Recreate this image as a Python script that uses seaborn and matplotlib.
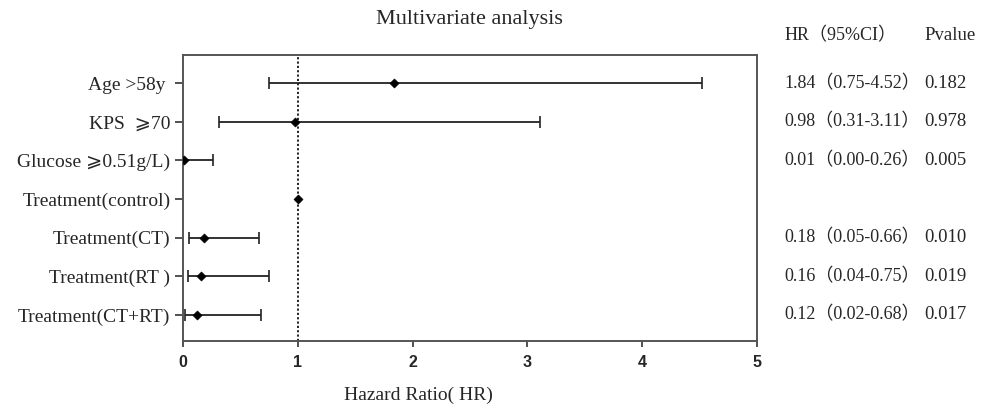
import numpy as np
import pandas as pd
import matplotlib.pyplot as plt
import seaborn as sns

labels = ['Age >58y ', 'KPS  ⩾70', 'Glucose ⩾0.51g/L)', 'Treatment(control)',
          'Treatment(CT)', 'Treatment(RT )', 'Treatment(CT+RT)']
hr = [1.84, 0.98, 0.01, 1.00, 0.18, 0.16, 0.12]
lower = [0.75, 0.31, 0.00, np.nan, 0.05, 0.04, 0.02]
upper = [4.52, 3.11, 0.26, np.nan, 0.66, 0.75, 0.68]
hr_text = ['1.84（0.75-4.52）', '0.98（0.31-3.11）', '0.01（0.00-0.26）', '',
           '0.18（0.05-0.66）', '0.16（0.04-0.75）', '0.12（0.02-0.68）']
p_text = ['0.182', '0.978', '0.005', '', '0.010', '0.019', '0.017']

df = pd.DataFrame({'label': labels, 'hr': hr, 'lo': lower, 'hi': upper})
df['pos'] = np.arange(len(df))

sns.set_theme(style='ticks')
serif = ['Liberation Serif', 'DejaVu Sans', 'Noto Sans CJK SC']
plt.rcParams['font.family'] = serif

fig = plt.figure(figsize=(9.89, 4.08), dpi=100)
ax = fig.add_axes([0.185, 0.164, 0.5805, 0.700])

ok = df.dropna()
ax.errorbar(ok['hr'], ok['pos'],
            xerr=[ok['hr'] - ok['lo'], ok['hi'] - ok['hr']],
            fmt='none', ecolor='#222222', elinewidth=1.3, capsize=4, capthick=1.2)
sns.scatterplot(data=df, x='hr', y='pos', marker='D', color='black', s=22,
                edgecolor='black', ax=ax, zorder=3, legend=False)
ax.axvline(1, color='black', ls=(0, (1.3, 1.3)), lw=1.2, zorder=1)

ax.set_xlim(0, 5)
ax.set_ylim(6.68, -0.72)
ax.set_xticks(range(6))
ax.set_xticklabels([str(i) for i in range(6)], family='Liberation Sans',
                   fontweight='bold', fontsize=11.5)
ax.set_yticks(df['pos'])
ax.set_yticklabels(df['label'], fontsize=14)
ax.tick_params(axis='y', length=6, width=1.2, color='#333333', pad=3)
ax.tick_params(axis='x', length=4, width=1.2, color='#333333', pad=6)
for s in ax.spines.values():
    s.set_color('#555555')
    s.set_linewidth(1.4)

ax.set_xlabel('')
ax.set_ylabel('')
fig.text(0.423, 0.030, 'Hazard Ratio( HR)', ha='center', va='center', fontsize=14)
fig.text(0.475, 0.953, 'Multivariate analysis', ha='center', va='center', fontsize=16)

# right-hand columns
fig.text(0.793, 0.912, 'HR（95%CI）', ha='left', va='center', fontsize=13)
fig.text(0.935, 0.912, 'Pvalue', ha='left', va='center', fontsize=13.5)
for i in range(len(df)):
    y = ax.transData.transform((0, i))[1] / fig.bbox.height
    fig.text(0.793, y, hr_text[i], ha='left', va='center', fontsize=13)
    fig.text(0.935, y, p_text[i], ha='left', va='center', fontsize=13.5)

fig.savefig('out.png', dpi=100)
